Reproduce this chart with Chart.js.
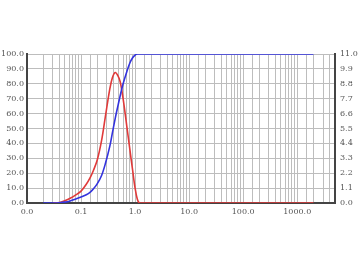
<!DOCTYPE html>
<html>
<head>
<meta charset="utf-8">
<script src="https://cdn.jsdelivr.net/npm/chart.js@4"></script>
<style>
  body { margin: 0; background: #fff; }
  canvas { display: block; }
</style>
</head>
<body>
<canvas id="psd" width="360" height="270"></canvas>
<script>
// particle size (um), log x axis
const sizes = [0.02, 0.03, 0.04, 0.05, 0.063, 0.08, 0.1, 0.125, 0.15, 0.17, 0.2, 0.24, 0.28, 0.34, 0.38, 0.43, 0.48, 0.53, 0.6, 0.7, 0.8, 0.9, 1.0, 1.1, 1.2, 1.5, 2, 5, 10, 50, 100, 500, 1000, 2000];
// cumulative % (left axis)
const cumulative = [0, 0, 0.2, 0.6, 1.4, 2.7, 4, 5.5, 7.5, 9.5, 13, 18.5, 26, 38, 47, 57, 65, 72, 80, 88, 94, 97.5, 99.3, 100, 100, 100, 100, 100, 100, 100, 100, 100, 100, 100];
// differential % (right axis)
const differential = [null, 0, 0.04, 0.17, 0.35, 0.6, 0.88, 1.38, 1.93, 2.42, 3.19, 4.62, 6.3, 8.4, 9.25, 9.63, 9.4, 8.95, 7.7, 5.72, 3.96, 2.42, 1.1, 0.28, 0, 0, 0, 0, 0, 0, 0, 0, 0, 0];
const leftMax = 100;
const rightMax = 11;

const tickFont = { family: 'DejaVu Serif', size: 8 };
const tickColor = '#555';
const gridColor = '#bdbdbd';

const toPoints = vals => sizes.map((s, i) => ({ x: s, y: vals[i] }));

new Chart(document.getElementById('psd'), {
    type: 'line',
    data: {
        datasets: [
            {
                data: toPoints(cumulative),
                yAxisID: 'y',
                borderColor: '#3333dd',
                borderWidth: 1.6,
                pointRadius: 0,
                tension: 0.35
            },
            {
                data: toPoints(differential),
                yAxisID: 'y1',
                borderColor: '#e03a3a',
                borderWidth: 1.6,
                pointRadius: 0,
                tension: 0.35
            }
        ]
    },
    options: {
        responsive: false,
        animation: false,
        layout: { padding: { top: 54, left: 0, right: 0, bottom: 0 } },
        plugins: { legend: { display: false }, tooltip: { enabled: false } },
        scales: {
            x: {
                type: 'logarithmic',
                min: 0.01,
                max: 5000,
                afterFit: s => { s.height = 67; },
                grid: { color: gridColor, drawTicks: false },
                border: { color: '#444', width: 2 },
                ticks: {
                    autoSkip: false,
                    maxRotation: 0,
                    padding: 4,
                    font: tickFont,
                    color: tickColor,
                    callback: v => {
                        const l = Math.log10(v);
                        return Math.abs(l - Math.round(l)) < 1e-6 ? v.toFixed(1) : '';
                    }
                }
            },
            y: {
                position: 'left',
                min: 0,
                max: leftMax,
                afterFit: s => { s.width = 27; },
                grid: { color: gridColor, drawTicks: false },
                border: { color: '#444', width: 2 },
                ticks: {
                    stepSize: 10,
                    padding: 3,
                    font: tickFont,
                    color: tickColor,
                    callback: v => v.toFixed(1)
                }
            },
            y1: {
                position: 'right',
                min: 0,
                max: rightMax,
                afterFit: s => { s.width = 25; },
                grid: { drawOnChartArea: false, drawTicks: false },
                border: { color: '#444', width: 2 },
                ticks: {
                    stepSize: 1.1,
                    padding: 5,
                    font: tickFont,
                    color: tickColor,
                    callback: v => v.toFixed(1)
                }
            }
        }
    }
});
</script>
</body>
</html>
